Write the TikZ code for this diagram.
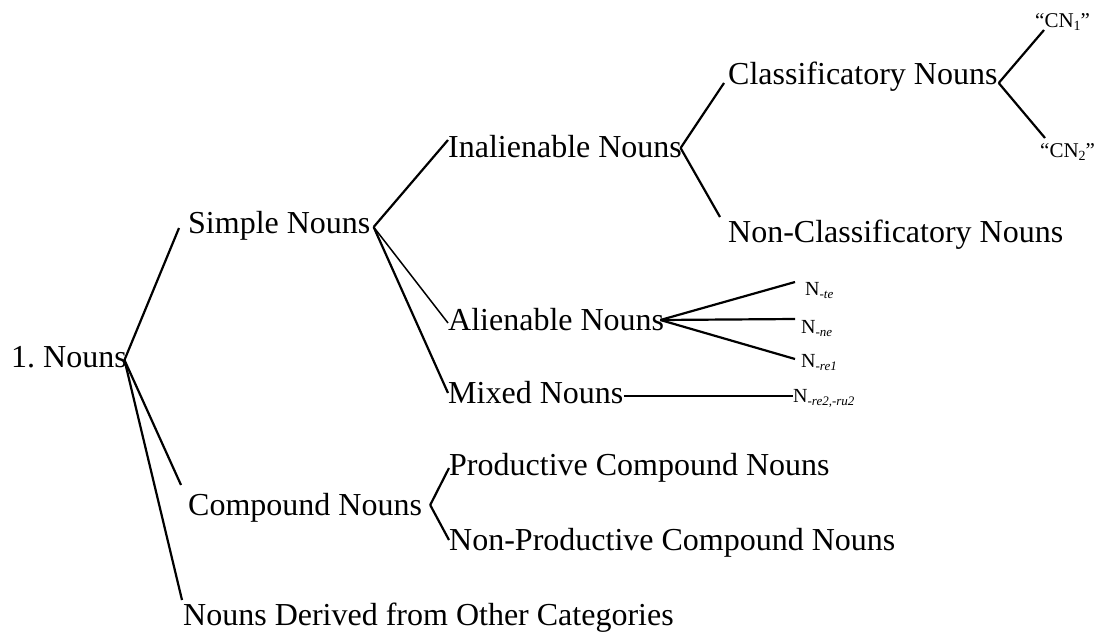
\documentclass[tikz,border=0pt]{standalone}
\usepackage{fontspec}
\setmainfont{Liberation Serif}
\usetikzlibrary{positioning}
\frenchspacing

\newcommand{\sublow}[1]{\raisebox{-3.5pt}{\fontsize{13}{13}\selectfont\itshape #1}}
\newcommand{\subnum}[1]{\raisebox{-3pt}{\fontsize{14}{14}\selectfont #1}}

\begin{document}
\begin{tikzpicture}[x=1pt, y=-1pt]
    \tikzstyle{cat} = [anchor=base west, inner sep=0pt, font=\fontsize{32}{38}\selectfont];
    \tikzstyle{leaf} = [anchor=base west, inner sep=0pt, font=\fontsize{20}{24}\selectfont];
    \tikzstyle{cnlabel} = [anchor=base west, inner sep=0pt, font=\fontsize{21}{24}\selectfont];
    \tikzstyle{branch} = [line width=2.2pt];
    \tikzstyle{twig} = [line width=1.5pt];

    \useasboundingbox (0,0) rectangle (1099,632);

    \node[cat] (nouns) at (11, 367) {1. Nouns};

    \node[cat] (simple) at (188, 233) {Simple Nouns};
    \node[cat] (compound) at (188, 515) {Compound Nouns};
    \node[cat] (derived) at (183, 625) {Nouns Derived from Other Categories};

    \node[cat] (inal) at (448, 157) {Inalienable Nouns};
    \node[cat] (alien) at (448, 330) {Alienable Nouns};
    \node[cat] (mixed) at (448, 403) {Mixed Nouns};

    \node[cat] (prod) at (449, 475) {Productive Compound Nouns};
    \node[cat] (nonprod) at (449, 550) {Non-Productive Compound Nouns};

    \node[cat] (class) at (728, 84) {Classificatory Nouns};
    \node[cat] (nonclass) at (728, 242) {Non-Classificatory Nouns};

    \node[cnlabel] (cn1) at (1035, 27) {``CN\subnum{1}''};
    \node[cnlabel] (cn2) at (1040, 157) {``CN\subnum{2}''};

    \node[leaf] (nte) at (805, 295) {N\sublow{-te}};
    \node[leaf] (nne) at (801, 333) {N\sublow{-ne}};
    \node[leaf] (nre1) at (801, 367) {N\sublow{-re1}};
    \node[leaf] (nre2) at (793, 402) {N\sublow{-re2,-ru2}};

    % first level
    \draw[branch] ([shift={(-2.5,-7)}]nouns.base east) -- ([shift={(-9,-5)}]simple.base west);
    \draw[branch] ([shift={(-2.5,-7)}]nouns.base east) -- ([shift={(-7,-30)}]compound.base west);
    \draw[branch] ([shift={(-2.5,-7)}]nouns.base east) -- ([shift={(-1,-25)}]derived.base west);

    % simple nouns
    \draw[branch] ([shift={(3,-6)}]simple.base east) -- ([shift={(0,-17)}]inal.base west);
    \draw[twig] ([shift={(3,-6)}]simple.base east) -- ([shift={(0,-7)}]alien.base west);
    \draw[branch] ([shift={(3,-6)}]simple.base east) -- ([shift={(0,-10)}]mixed.base west);

    \draw[branch] ([shift={(-1.5,-9)}]inal.base east) -- ([shift={(-4,-1)}]class.base west);
    \draw[branch] ([shift={(-1.5,-9)}]inal.base east) -- ([shift={(-8,-25)}]nonclass.base west);

    \draw[branch] ([shift={(1,-1)}]class.base east) -- ([shift={(9,3)}]cn1.base west);
    \draw[branch] ([shift={(1,-1)}]class.base east) -- ([shift={(5,-19)}]cn2.base west);

    \draw[branch] ([shift={(-4,-10)}]alien.base east) -- ([shift={(-10,-13)}]nte.base west);
    \draw[branch] ([shift={(-4,-10)}]alien.base east) -- ([shift={(-6,-14)}]nne.base west);
    \draw[branch] ([shift={(-4,-10)}]alien.base east) -- ([shift={(-6,-8)}]nre1.base west);

    \draw[branch] ([shift={(0,-7)}]mixed.base east) -- ([shift={(0,-6)}]nre2.base west);

    % compound nouns
    \draw[branch] ([shift={(8,-10)}]compound.base east) -- ([shift={(0,-7)}]prod.base west);
    \draw[branch] ([shift={(8,-10)}]compound.base east) -- ([shift={(0,-10)}]nonprod.base west);
\end{tikzpicture}
\end{document}
